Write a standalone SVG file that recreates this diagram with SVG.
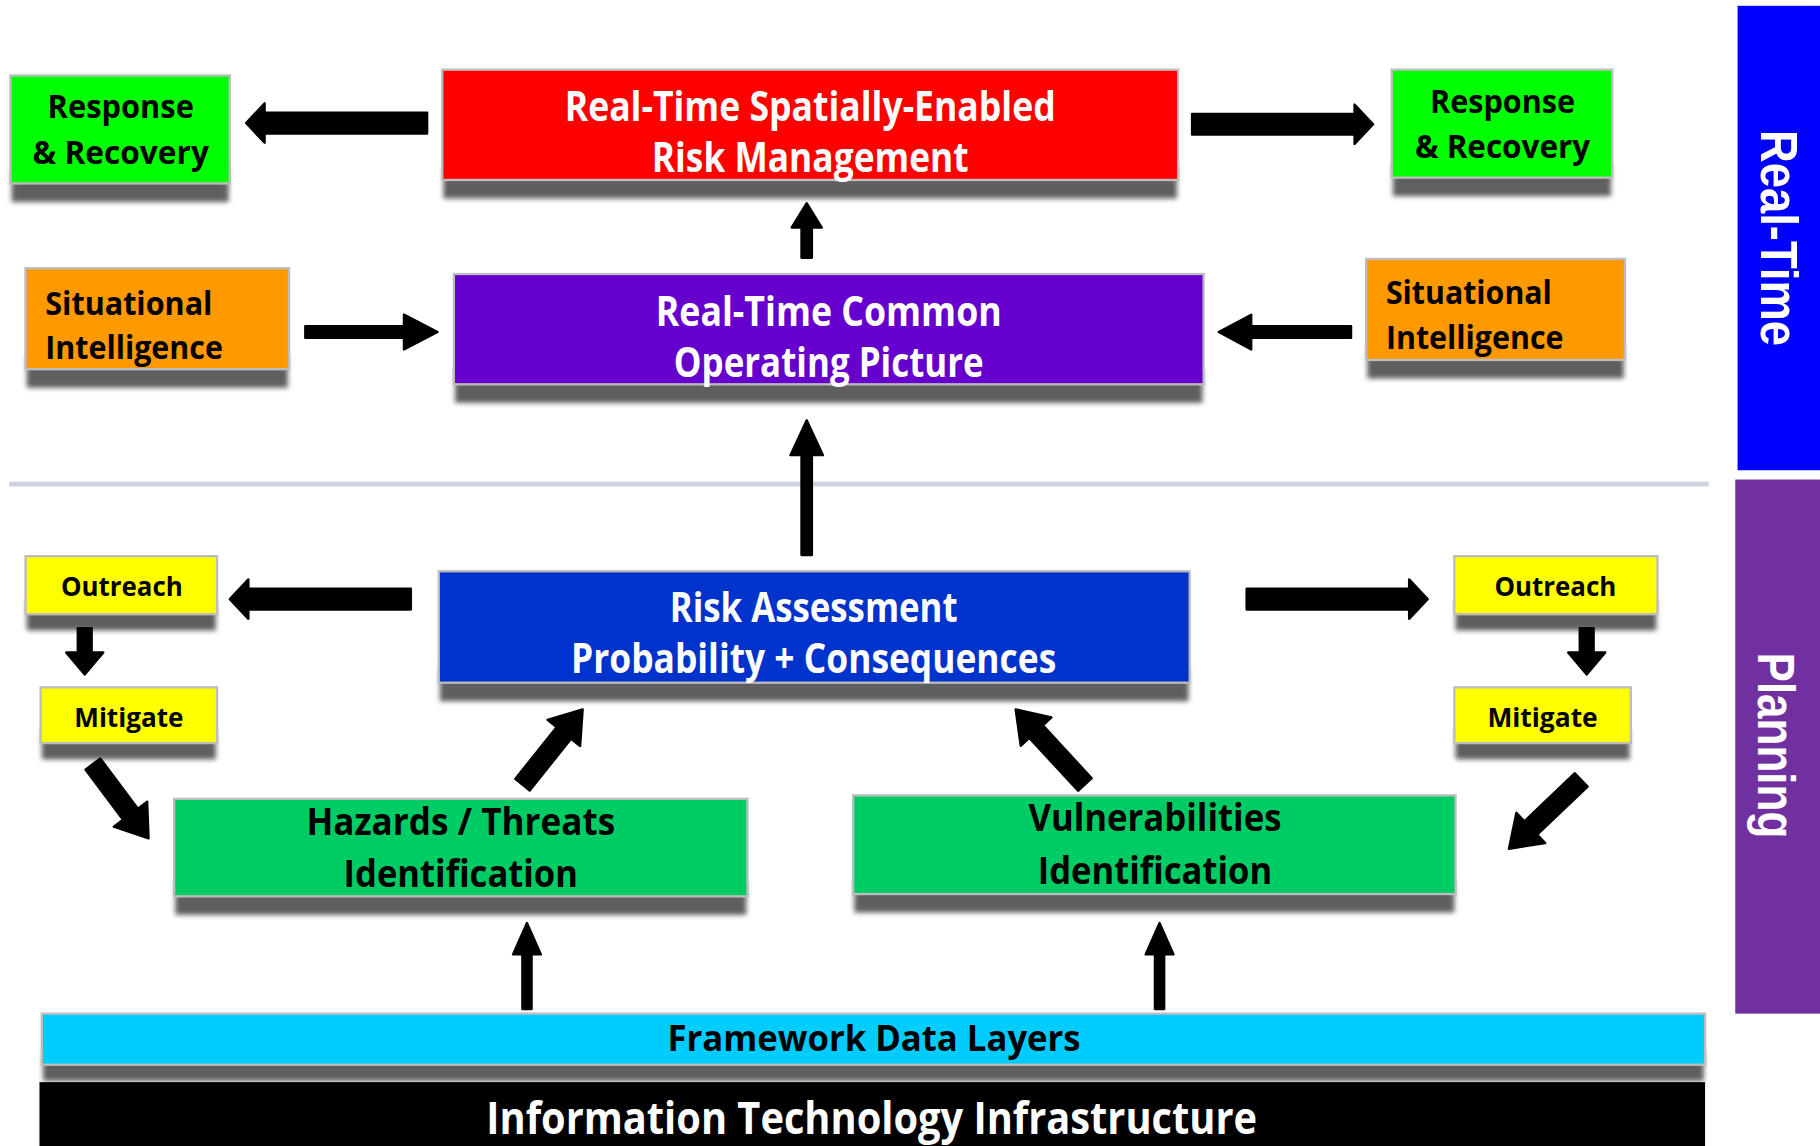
<svg xmlns="http://www.w3.org/2000/svg" width="1820" height="1146" viewBox="0 0 1820 1146">
<defs>
<filter id="blur" x="-10%" y="-100%" width="120%" height="300%"><feGaussianBlur stdDeviation="2.2"/></filter>
<style>
.sh{fill:#5e5e5e;filter:url(#blur)}
.box{stroke:#BDBDBD;stroke-width:2}
.t{font-family:"Open Sans","Liberation Sans",sans-serif;font-weight:bold;text-anchor:middle}
.tl{font-family:"Open Sans","Liberation Sans",sans-serif;font-weight:bold;text-anchor:start}
.w{fill:#FFFFFF}
.k{fill:#000000}
.arr{fill:#000;stroke:#000;stroke-width:2;stroke-linejoin:round}
.side{font-family:"Liberation Sans",Arial,sans-serif;font-weight:bold;fill:#FFFFFF;text-anchor:middle}
</style>
</defs>
<rect x="0" y="0" width="1820" height="1146" fill="#FFFFFF"/>
<g transform="scale(1.16071,1.16109)">
<g id="bar-realtime">
<rect x="1497" y="5" width="71" height="400" fill="#0000FF"/>
<text class="side" font-size="44" transform="translate(1532,205) rotate(90)" x="0" y="15" textLength="186" lengthAdjust="spacingAndGlyphs">Real-Time</text>
</g>
<g id="bar-planning">
<rect x="1495" y="413" width="73" height="460" fill="#7030A0"/>
<text class="side" font-size="44" transform="translate(1530,642) rotate(90)" x="0" y="15" textLength="160" lengthAdjust="spacingAndGlyphs">Planning</text>
</g>
<line id="separator" x1="8" y1="417" x2="1472" y2="417" stroke="#CCD2DE" stroke-width="4"/>

<g id="rr-left">
<rect class="sh" x="10" y="146" width="187" height="28"/>
<rect class="box" x="9" y="65" width="189" height="93" fill="#00FF00"/>
<text class="t k" font-size="27" x="104" y="102" textLength="126" lengthAdjust="spacingAndGlyphs">Response</text>
<text class="t k" font-size="27" x="104" y="141" textLength="152" lengthAdjust="spacingAndGlyphs">&amp; Recovery</text>
</g>
<g id="rr-right">
<rect class="sh" x="1200" y="141" width="188" height="28"/>
<rect class="box" x="1199" y="60" width="190" height="93" fill="#00FF00"/>
<text class="t k" font-size="27" x="1294.5" y="97" textLength="125" lengthAdjust="spacingAndGlyphs">Response</text>
<text class="t k" font-size="27" x="1294.5" y="136" textLength="151" lengthAdjust="spacingAndGlyphs">&amp; Recovery</text>
</g>
<g id="risk-management">
<rect class="sh" x="382" y="143" width="632" height="28"/>
<rect class="box" x="381" y="60" width="634" height="95" fill="#FF0000"/>
<text class="t w" font-size="35" x="698" y="104" textLength="423" lengthAdjust="spacingAndGlyphs">Real-Time Spatially-Enabled</text>
<text class="t w" font-size="35" x="698" y="148" textLength="273" lengthAdjust="spacingAndGlyphs">Risk Management</text>
</g>
<g id="cop">
<rect class="sh" x="392" y="319" width="644" height="28"/>
<rect class="box" x="391" y="236" width="646" height="95" fill="#6600CC"/>
<text class="t w" font-size="35" x="714" y="281" textLength="298" lengthAdjust="spacingAndGlyphs">Real-Time Common</text>
<text class="t w" font-size="35" x="714" y="325" textLength="267" lengthAdjust="spacingAndGlyphs">Operating Picture</text>
</g>
<g id="si-left">
<rect class="sh" x="23" y="306" width="225" height="28"/>
<rect class="box" x="22" y="231" width="227" height="87" fill="#FF9900"/>
<text class="tl k" font-size="27" x="39" y="271" textLength="144" lengthAdjust="spacingAndGlyphs">Situational</text>
<text class="tl k" font-size="27" x="39" y="309" textLength="153" lengthAdjust="spacingAndGlyphs">Intelligence</text>
</g>
<g id="si-right">
<rect class="sh" x="1178" y="298" width="221" height="28"/>
<rect class="box" x="1177" y="223" width="223" height="87" fill="#FF9900"/>
<text class="tl k" font-size="27" x="1194" y="262" textLength="143" lengthAdjust="spacingAndGlyphs">Situational</text>
<text class="tl k" font-size="27" x="1194" y="301" textLength="153" lengthAdjust="spacingAndGlyphs">Intelligence</text>
</g>
<g id="risk-assessment">
<rect class="sh" x="379" y="576" width="645" height="28"/>
<rect class="box" x="378" y="492" width="647" height="96" fill="#0033CC"/>
<text class="t w" font-size="35" x="701" y="536" textLength="248" lengthAdjust="spacingAndGlyphs">Risk Assessment</text>
<text class="t w" font-size="35" x="701" y="580" textLength="418" lengthAdjust="spacingAndGlyphs">Probability + Consequences</text>
</g>
<g id="outreach-left">
<rect class="sh" x="23" y="517" width="163" height="26"/>
<rect class="box" x="22" y="479" width="165" height="50" fill="#FFFF00"/>
<text class="t k" font-size="23" x="105" y="513" textLength="105" lengthAdjust="spacingAndGlyphs">Outreach</text>
</g>
<g id="mitigate-left">
<rect class="sh" x="36" y="628" width="150" height="26"/>
<rect class="box" x="35" y="592" width="152" height="48" fill="#FFFF00"/>
<text class="t k" font-size="23" x="111" y="626" textLength="94" lengthAdjust="spacingAndGlyphs">Mitigate</text>
</g>
<g id="outreach-right">
<rect class="sh" x="1254" y="517" width="173" height="26"/>
<rect class="box" x="1253" y="479" width="175" height="50" fill="#FFFF00"/>
<text class="t k" font-size="23" x="1340" y="513" textLength="105" lengthAdjust="spacingAndGlyphs">Outreach</text>
</g>
<g id="mitigate-right">
<rect class="sh" x="1254" y="628" width="150" height="26"/>
<rect class="box" x="1253" y="592" width="152" height="48" fill="#FFFF00"/>
<text class="t k" font-size="23" x="1329" y="626" textLength="95" lengthAdjust="spacingAndGlyphs">Mitigate</text>
</g>
<g id="hazards">
<rect class="sh" x="151" y="760" width="492" height="28"/>
<rect class="box" x="150" y="688" width="494" height="84" fill="#00CC66"/>
<text class="t k" font-size="33" x="397" y="719" textLength="266" lengthAdjust="spacingAndGlyphs">Hazards / Threats</text>
<text class="t k" font-size="33" x="397" y="764" textLength="202" lengthAdjust="spacingAndGlyphs">Identification</text>
</g>
<g id="vulnerabilities">
<rect class="sh" x="736" y="758" width="517" height="28"/>
<rect class="box" x="735" y="685" width="519" height="85" fill="#00CC66"/>
<text class="t k" font-size="33" x="995" y="716" textLength="218" lengthAdjust="spacingAndGlyphs">Vulnerabilities</text>
<text class="t k" font-size="33" x="995" y="761" textLength="202" lengthAdjust="spacingAndGlyphs">Identification</text>
</g>
<g id="framework">
<rect class="sh" x="37" y="905" width="1431" height="26"/>
<rect class="box" x="36" y="873" width="1433" height="44" fill="#00CCFF"/>
<text class="t k" font-size="31" x="753" y="905" textLength="356" lengthAdjust="spacingAndGlyphs">Framework Data Layers</text>
</g>
<g id="infrastructure">
<rect x="34" y="932" width="1435" height="60" fill="#000000"/>
<text class="t w" font-size="38" x="751" y="977" textLength="664" lengthAdjust="spacingAndGlyphs">Information Technology Infrastructure</text>
</g>

<g id="connectors">
<path class="arr" d="M212,106 L228,89 L228,97 L368,97 L368,115 L228,115 L228,123 Z"/>
<path class="arr" d="M1183,107 L1167,90 L1167,98 L1027,98 L1027,116 L1167,116 L1167,124 Z"/>
<path class="arr" d="M198,516 L214,499 L214,507 L354,507 L354,525 L214,525 L214,533 Z"/>
<path class="arr" d="M1230,516 L1214,499 L1214,507 L1074,507 L1074,525 L1214,525 L1214,533 Z"/>
<path class="arr" d="M377,286 L348,271 L348,281 L263,281 L263,291 L348,291 L348,301 Z"/>
<path class="arr" d="M1050,286 L1078,271 L1078,281 L1164,281 L1164,291 L1078,291 L1078,301 Z"/>
<path class="arr" d="M695,175 L708,196 L699.5,196 L699.5,222 L690.5,222 L690.5,196 L682,196 Z"/>
<path class="arr" d="M695,362 L709,392 L699.5,392 L699.5,478 L690.5,478 L690.5,392 L681,392 Z"/>
<path class="arr" d="M454,795 L466,822 L458,822 L458,869 L450,869 L450,822 L442,822 Z"/>
<path class="arr" d="M999,795 L1011,822 L1003,822 L1003,869 L995,869 L995,822 L987,822 Z"/>
<path class="arr" d="M73,581 L57,562 L67,562 L67,541 L79,541 L79,562 L89,562 Z"/>
<path class="arr" d="M1367,581 L1351,562 L1361,562 L1361,541 L1373,541 L1373,562 L1383,562 Z"/>
<path class="arr" transform="translate(128,722) rotate(53.13)" d="M0,0 L-26,-18 L-26,-8 L-80,-8 L-80,8 L-26,8 L-26,18 Z"/>
<path class="arr" transform="translate(502,611) rotate(-51.34)" d="M0,0 L-26,-18 L-26,-8 L-83,-8 L-83,8 L-26,8 L-26,18 Z"/>
<path class="arr" transform="translate(875,611) rotate(-132.71)" d="M0,0 L-26,-18 L-26,-8 L-88,-8 L-88,8 L-26,8 L-26,18 Z"/>
<path class="arr" transform="translate(1300,731) rotate(136.42)" d="M0,0 L-26,-18 L-26,-8 L-86,-8 L-86,8 L-26,8 L-26,18 Z"/>
</g>
</g>
</svg>
